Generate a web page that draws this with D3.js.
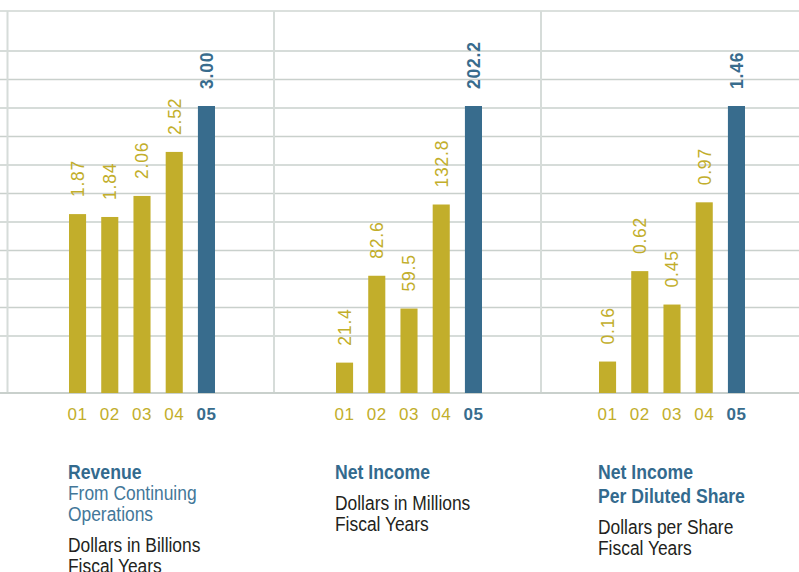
<!DOCTYPE html>
<html>
<head>
<meta charset="utf-8">
<script src="https://cdn.jsdelivr.net/npm/d3@7"></script>
<style>
  body { margin: 0; background: #fff; }
  svg { display: block; }
</style>
</head>
<body>
<div id="chart"></div>
<script>
// Data
const years = ["01", "02", "03", "04", "05"];
const revenue = [1.87, 1.84, 2.06, 2.52, 3.0];
const netIncome = [21.4, 82.6, 59.5, 132.8, 202.2];
const eps = [0.16, 0.62, 0.45, 0.97, 1.46];
const revenueLabels = ["1.87", "1.84", "2.06", "2.52", "3.00"];
const netIncomeLabels = ["21.4", "82.6", "59.5", "132.8", "202.2"];
const epsLabels = ["0.16", "0.62", "0.45", "0.97", "1.46"];
const titles = [["Revenue"], ["Net Income"], ["Net Income", "Per Diluted Share"]];
const subtitles = [["From Continuing", "Operations"], [], []];
const units = [
  ["Dollars in Billions", "Fiscal Years"],
  ["Dollars in Millions", "Fiscal Years"],
  ["Dollars per Share", "Fiscal Years"],
];
const gridLevels = [2, 3, 4, 5, 6, 7, 8, 9, 10, 11, 12];

const width = 799;
const height = 572;
const baseY = 393;
const topY = 11;
const gold = "#c2ae2b";
const blue = "#386c8d";
const numFont = "'Liberation Sans', Arial, sans-serif";

const panels = [
  { x0: 7.5, barX: 69, values: revenue, labels: revenueLabels },
  { x0: 274, barX: 336, values: netIncome, labels: netIncomeLabels },
  { x0: 541, barX: 599, values: eps, labels: epsLabels },
];

const svg = d3
  .select("#chart")
  .append("svg")
  .attr("width", width)
  .attr("height", height);

// Grid

const gridScale = d3.scaleLinear().domain([0, 12]).range([baseY, 51]);

svg
  .selectAll(".grid")
  .data(gridLevels)
  .enter()
  .append("line")
  .attr("x1", 0)
  .attr("x2", width)
  .attr("y1", (d) => gridScale(d))
  .attr("y2", (d) => gridScale(d))
  .style("stroke", "#c9d0cc")
  .style("stroke-width", 1.3);

svg
  .append("line")
  .attr("x1", 0)
  .attr("x2", width)
  .attr("y1", topY)
  .attr("y2", topY)
  .style("stroke", "#dbe0dd")
  .style("stroke-width", 2);

svg
  .selectAll(".divider")
  .data(panels)
  .enter()
  .append("line")
  .attr("x1", (d) => d.x0)
  .attr("x2", (d) => d.x0)
  .attr("y1", topY)
  .attr("y2", baseY)
  .style("stroke", "#d6dcd9")
  .style("stroke-width", 2);

svg
  .append("line")
  .attr("x1", 0)
  .attr("x2", width)
  .attr("y1", baseY)
  .attr("y2", baseY)
  .style("stroke", "#c9d0cc")
  .style("stroke-width", 2);

// Bars, labels and axis per panel

panels.forEach((p, i) => {
  const xScale = d3
    .scaleBand()
    .domain(years)
    .range([p.barX, p.barX + 146])
    .paddingInner(0.47)
    .paddingOuter(0);

  const yScale = d3
    .scaleLinear()
    .domain([0, d3.max(p.values)])
    .range([baseY, 106]);

  const last = (j) => j === years.length - 1;
  const color = (j) => (last(j) ? blue : gold);
  const g = svg.append("g");

  g.selectAll(".bar")
    .data(p.values)
    .enter()
    .append("rect")
    .attr("x", (d, j) => xScale(years[j]))
    .attr("y", (d) => yScale(d))
    .attr("width", xScale.bandwidth())
    .attr("height", (d) => baseY - yScale(d))
    .style("fill", (d, j) => color(j));

  g.selectAll(".val")
    .data(p.values)
    .enter()
    .append("text")
    .attr(
      "transform",
      (d, j) =>
        `translate(${xScale(years[j]) + xScale.bandwidth() / 2},${yScale(d) - 17}) rotate(-90)`
    )
    .attr("dy", "0.36em")
    .style("font-family", numFont)
    .style("font-size", "17.5px")
    .style("letter-spacing", "0.8px")
    .style("font-weight", (d, j) => (last(j) ? "bold" : "normal"))
    .style("fill", (d, j) => color(j))
    .text((d, j) => p.labels[j]);

  const axis = g
    .append("g")
    .attr("transform", `translate(0,${baseY})`)
    .call(d3.axisBottom(xScale).tickSize(0).tickPadding(15));
  axis.select(".domain").remove();
  axis
    .selectAll(".tick text")
    .style("font-family", numFont)
    .style("font-size", "17px")
    .style("letter-spacing", "0.5px")
    .style("font-weight", (d, j) => (last(j) ? "bold" : "normal"))
    .style("fill", (d, j) => color(j));

  // Captions, one text per line, squeezed for a condensed look

  const lines = [];
  let y = 479;
  titles[i].forEach((t, k) => {
    if (k > 0) y += 24;
    lines.push({ t, y, size: 21, sx: 0.84, bold: true, fill: "#336a8e" });
  });
  subtitles[i].forEach((t) => {
    y += 21;
    lines.push({ t, y, size: 20, sx: 0.87, bold: false, fill: "#437799" });
  });
  units[i].forEach((t, k) => {
    y += k === 0 ? 31 : 21;
    lines.push({ t, y, size: 20, sx: 0.87, bold: false, fill: "#231f20" });
  });

  svg
    .selectAll(null)
    .data(lines)
    .enter()
    .append("text")
    .attr("transform", (d) => `translate(${p.barX - 1},${d.y}) scale(${d.sx},1)`)
    .style("font-family", numFont)
    .style("font-size", (d) => d.size + "px")
    .style("font-weight", (d) => (d.bold ? "bold" : "normal"))
    .style("fill", (d) => d.fill)
    .text((d) => d.t);
});
</script>
</body>
</html>
